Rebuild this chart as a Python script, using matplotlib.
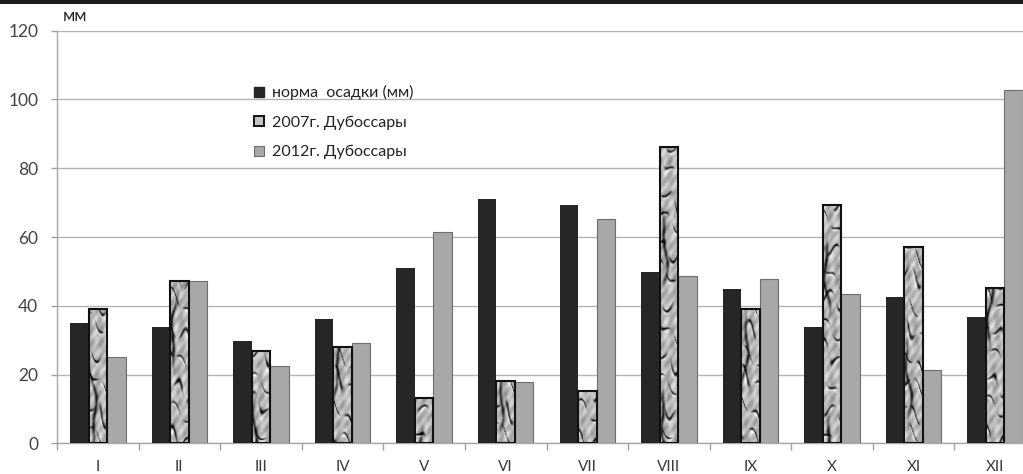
import numpy as np
import matplotlib
matplotlib.use("Agg")
import matplotlib.pyplot as plt
from matplotlib.patches import Patch, Rectangle

plt.rcParams['font.family'] = ['Lato', 'Open Sans', 'DejaVu Sans']

months = ['I', 'II', 'III', 'IV', 'V', 'VI', 'VII', 'VIII', 'IX', 'X', 'XI', 'XII']
norm_mm = [35.0, 33.8, 29.8, 36.2, 51.0, 71.0, 69.3, 49.8, 44.9, 33.8, 42.5, 36.7]
dub_2007 = [39.1, 47.2, 26.8, 28.0, 13.2, 18.1, 15.2, 86.2, 39.1, 69.3, 57.1, 45.2]
dub_2012 = [25.1, 47.2, 22.5, 29.2, 61.5, 17.8, 65.2, 48.6, 47.8, 43.4, 21.3, 102.8]
labels = ['норма  осадки (мм)', '2007г. Дубоссары', '2012г. Дубоссары']
yticks = [0, 20, 40, 60, 80, 100, 120]


def stone_texture(h, w, ph):
    """Grey marbled surface with dark curved veins and light rims."""
    y, x = np.mgrid[0:h, 0:w].astype(float)
    warp = (6 * np.sin(0.045 * y + 0.3 * x + ph) + 4 * np.sin(0.11 * y - 0.2 * x + 2 * ph)
            + 3 * np.sin(0.023 * y + 1.7 * ph))
    s = y - 0.9 * x + warp
    period = 27.0
    c = np.cos(2 * np.pi * s / period)
    fade = 0.5 + 0.5 * np.sin(0.05 * y + 0.4 * x + 3 * ph)
    veins = np.exp(-(1 - c) / 0.06) * np.clip(fade * 1.5, 0, 1)
    c2 = np.cos(2 * np.pi * (s - 3.5) / period)
    rims = 0.16 * np.exp(-(1 - c2) / 0.1) * fade

    t = x + 2.5 * np.sin(0.06 * y + ph) + 1.5 * np.sin(0.13 * y + 0.5 * ph)
    side = np.exp(-((t - 4.0) ** 2) / 2.5) * np.clip(np.sin(0.035 * y + 2 * ph) * 1.3, 0, 1)

    base = (0.72 + 0.08 * np.sin(0.3 * x + 0.2 * y + ph) * np.sin(0.17 * y - 0.25 * x + ph)
            + 0.06 * np.sin(0.5 * y + 0.7 * x + 2 * ph) + 0.04 * np.sin(0.08 * y - 0.6 * x))
    return np.clip(base - 0.72 * veins - 0.6 * side + rims, 0.05, 1.0)


fig = plt.figure(figsize=(10.23, 4.74), dpi=100)
fig.patch.set_facecolor('white')
ax = fig.add_axes([57 / 1023, 30.7 / 474, 979 / 1023, 412.6 / 474])

x = np.arange(len(months))
w = 0.227

ax.bar(x - w, norm_mm, w, color='#262626', linewidth=0, zorder=3)
tex_bars = ax.bar(x, dub_2007, w, facecolor='none', edgecolor='#111111', linewidth=1.5, zorder=4)
ax.bar(x + w, dub_2012, w, color='#a8a8a8', edgecolor='#6e6e6e', linewidth=0.8, zorder=3)

for i, patch in enumerate(tex_bars.patches):
    x0 = patch.get_x()
    img = stone_texture(420, 20, 1.3 * i + 0.4)
    im = ax.imshow(img, cmap='gray', vmin=0, vmax=1, aspect='auto',
                   extent=[x0, x0 + patch.get_width(), 0, 120], origin='upper',
                   interpolation='bilinear', zorder=3.5)
    im.set_clip_path(patch)

ax.set_xlim(-0.5, len(months) - 0.5)
ax.set_ylim(0, 120)
ax.set_yticks(yticks)
ax.set_yticklabels([str(v) for v in yticks])
ax.yaxis.grid(True, color='#b4b4b4', linewidth=1.0, zorder=0)
ax.set_axisbelow(True)

ax.set_xticks(x)
ax.set_xticklabels(months)
ax.set_xticks(np.arange(len(months) + 1) - 0.5, minor=True)
ax.tick_params(axis='x', which='major', length=0, pad=12, labelsize=11, labelcolor='#3a3a3a')
ax.tick_params(axis='x', which='minor', length=5, width=1, color='#a0a0a0', direction='out')
ax.tick_params(axis='y', length=4, width=1, color='#a0a0a0', pad=9.5, labelsize=12.5, labelcolor='#444444')

for side in ['top', 'right']:
    ax.spines[side].set_visible(False)
for side in ['left', 'bottom']:
    ax.spines[side].set_color('#a8a8a8')
    ax.spines[side].set_linewidth(1.0)

fig.text(63 / 1023, 1 - 16 / 474, 'мм', fontsize=12.5, color='#222222', va='center', ha='left')

handles = [Patch(facecolor='#262626', edgecolor='#262626'),
           Patch(facecolor='#c4c4c4', edgecolor='#111111', linewidth=1.4),
           Patch(facecolor='#a8a8a8', edgecolor='#6e6e6e', linewidth=0.8)]
ax.legend(handles, labels, loc='upper left', bbox_to_anchor=(240 / 1023, 1 - 71 / 474),
          bbox_transform=fig.transFigure, frameon=False, fontsize=11.5,
          handlelength=0.6, handleheight=0.6, handletextpad=0.5, labelspacing=0.95,
          labelcolor='#222222')

# dark strip along the top edge
fig.add_artist(Rectangle((0, 1 - 4 / 474), 1, 4 / 474, transform=fig.transFigure,
                         facecolor='#1c1c1c', edgecolor='none'))

fig.savefig('out.png', dpi=100)
